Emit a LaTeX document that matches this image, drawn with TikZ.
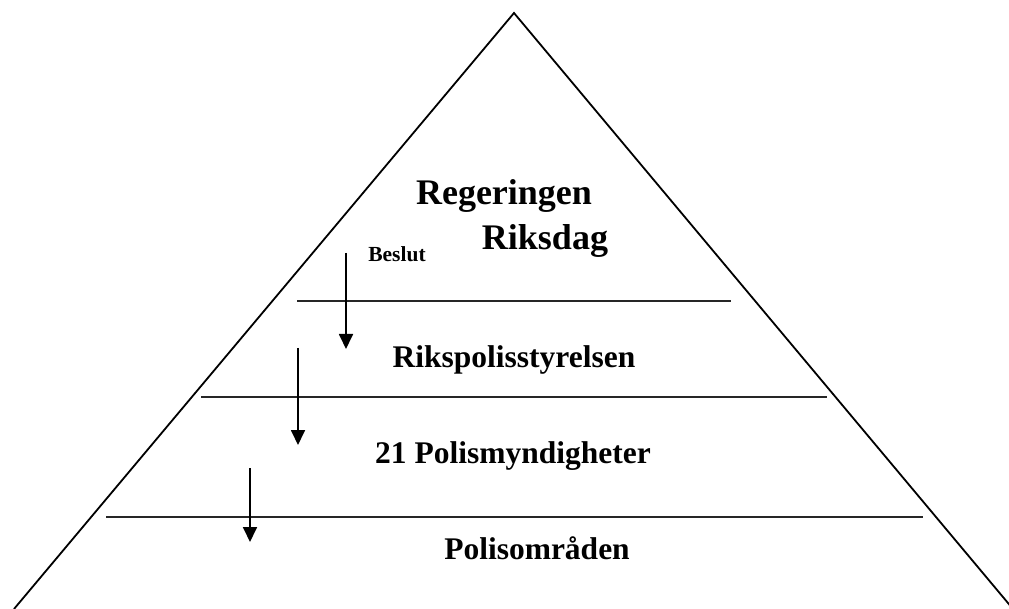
\documentclass[tikz,border=0pt]{standalone}
\usepackage{fontspec}
\setmainfont{Liberation Serif}
\usetikzlibrary{arrows.meta}
\begin{document}
\begin{tikzpicture}[x=1pt,y=-1pt,
  edge/.style={line width=1.8pt,black},
  level/.style={line width=1.8pt,black!85},
  flow/.style={line width=1.8pt,-{Triangle[length=15pt,width=14pt]}},
  big/.style={anchor=base,inner sep=0pt,font=\bfseries\fontsize{36}{36}\selectfont},
  mid/.style={anchor=base,inner sep=0pt,font=\bfseries\fontsize{31.5}{31.5}\selectfont},
  small/.style={anchor=base,inner sep=0pt,font=\bfseries\fontsize{21.5}{21.5}\selectfont}]
\useasboundingbox (0,0) rectangle (1009,609);
% pyramid
\coordinate (apex) at (514,13);
\coordinate (bl) at (14,609);
\coordinate (br) at (1013,609);
\draw[edge] (bl) -- (apex) -- (br);
% level lines
\coordinate (l1a) at (297,301); \coordinate (l1b) at (731,301);
\coordinate (l2a) at (201,397); \coordinate (l2b) at (827,397);
\coordinate (l3a) at (106,517); \coordinate (l3b) at (923,517);
\draw[level] (l1a) -- (l1b);
\draw[level] (l2a) -- (l2b);
\draw[level] (l3a) -- (l3b);
% labels
\node[big] (reg) at (504,205) {Regeringen};
\node[big] (riks) at (545,250) {Riksdag};
\node[small] (beslut) at (397,262) {Beslut};
\node[mid] (rps) at (514,367) {Rikspolisstyrelsen};
\node[mid] (pm) at (513,463) {21 Polismyndigheter};
\node[mid] (po) at (537,559) {Polisområden};
% arrows
\coordinate (a1s) at (346,253); \coordinate (a1e) at (346,349);
\coordinate (a2s) at (298,348); \coordinate (a2e) at (298,445);
\coordinate (a3s) at (250,468); \coordinate (a3e) at (250,542);
\draw[flow] (a1s) -- (a1e);
\draw[flow] (a2s) -- (a2e);
\draw[flow] (a3s) -- (a3e);
\end{tikzpicture}
\end{document}
